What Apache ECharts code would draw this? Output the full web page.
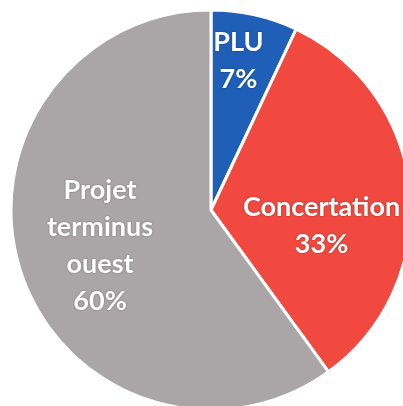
<!DOCTYPE html>
<html>
<head>
<meta charset="utf-8">
<script src="https://cdn.jsdelivr.net/npm/echarts@6/dist/echarts.min.js"></script>
<style>
  html, body { margin: 0; padding: 0; background: #fff; }
  #chart { width: 403px; height: 406px; }
</style>
</head>
<body>
<div id="chart"></div>
<script>
const categories = ['PLU', 'Concertation', 'Projet\nterminus\nouest'];
const values = [7, 33, 60];
const colors = ['#1f5fb7', '#f1493f', '#aaa6a8'];
const labelOffsets = [[5, -49], [8, 25], [-13, 4]];

let chart = echarts.init(document.getElementById('chart'));

chart.setOption({
    backgroundColor: '#ffffff',
    series: [
        {
            type: 'pie',
            center: [211, 210],
            radius: 200,
            startAngle: 90,
            clockwise: true,
            animation: false,
            itemStyle: { borderColor: '#ffffff', borderWidth: 3 },
            label: {
                show: true,
                position: 'inside',
                color: '#ffffff',
                fontFamily: 'Lato',
                fontWeight: 'bold',
                fontSize: 27,
                lineHeight: 37,
                textShadowColor: 'rgba(0,0,0,0.35)',
                textShadowBlur: 2,
                formatter: p => p.name + '\n' + p.value + '%'
            },
            labelLine: { show: false },
            emphasis: { disabled: true },
            data: categories.map((name, i) => {
                return {
                    name: name,
                    value: values[i],
                    itemStyle: { color: colors[i] },
                    label: { offset: labelOffsets[i] }
                }
            })
        }
    ]
});
</script>
</body>
</html>
